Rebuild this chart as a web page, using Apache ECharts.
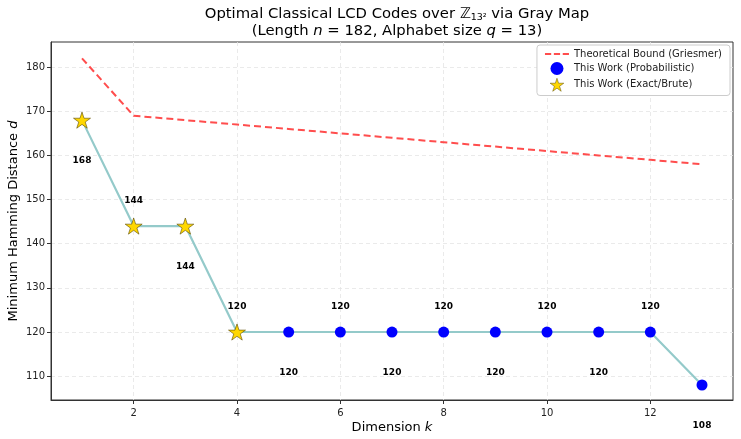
<!DOCTYPE html>
<html>
<head>
<meta charset="utf-8">
<script src="https://cdn.jsdelivr.net/npm/echarts@6/dist/echarts.min.js"></script>
<style>
  html, body { margin: 0; padding: 0; background: #fff; }
  #chart { width: 741px; height: 439px; }
</style>
</head>
<body>
<div id="chart"></div>
<script>
// data
const dims = [1, 2, 3, 4, 5, 6, 7, 8, 9, 10, 11, 12, 13];
const griesmerBound = [182, 169, 168, 167, 166, 165, 164, 163, 162, 161, 160, 159, 158];
const distances = [168, 144, 144, 120, 120, 120, 120, 120, 120, 120, 120, 120, 108];
const exactDims = [1, 2, 3, 4];
const probDims = [5, 6, 7, 8, 9, 10, 11, 12, 13];
const xTicks = [2, 4, 6, 8, 10, 12];
const yTicks = [110, 120, 130, 140, 150, 160, 170, 180];

const FONT = 'DejaVu Sans';
const STAR = 'path://M100 0 L122.45 69.1 L195.1 69.1 L136.3 111.8 L158.8 180.9 L100 138.2 L41.2 180.9 L63.7 111.8 L4.9 69.1 L77.55 69.1 Z';
const DASH = 'path://M0 0H7V2H0Z M10 0H17V2H10Z M20 0H27V2H20Z';

const pick = (ks) => ks.map(k => [k, distances[dims.indexOf(k)]]);

// value labels, alternate below (odd k) / above (even k)
const labelledLine = dims.map((k, i) => ({
  value: [k, distances[i]],
  label: {
    show: true,
    position: 'inside',
    offset: k % 2 === 1 ? [0, 41] : [0, -25],
  },
}));

const chart = echarts.init(document.getElementById('chart'));

chart.setOption({
  animation: false,
  textStyle: { fontFamily: FONT },
  title: {
    left: 392,
    top: 1,
    textAlign: 'center',
    text: '{r|Optimal Classical LCD Codes over }{z|ℤ}{s|13²}{r| via Gray Map}\n{r|(Length }{i|n}{r| = 182, Alphabet size }{i|q}{r| = 13)}',
    textStyle: {
      fontFamily: FONT,
      fontWeight: 'normal',
      rich: {
        r: { fontSize: 14.8, color: '#000', fontFamily: FONT, fontWeight: 'normal', lineHeight: 17 },
        z: { fontSize: 14.8, color: '#000', fontFamily: FONT, fontWeight: 'normal', lineHeight: 17 },
        s: { fontSize: 9.5, color: '#000', fontFamily: FONT, fontWeight: 'normal', verticalAlign: 'bottom', lineHeight: 17, padding: [6, 0, 0, 0] },
        i: { fontSize: 14.8, color: '#000', fontFamily: FONT, fontWeight: 'normal', fontStyle: 'italic', lineHeight: 17 },
      },
    },
  },
  legend: {
    orient: 'vertical',
    right: 11,
    top: 45,
    padding: [4, 8, 4, 8],
    itemGap: 3,
    itemWidth: 24,
    itemHeight: 13,
    borderColor: '#ccc',
    borderWidth: 1,
    borderRadius: 3,
    backgroundColor: '#fff',
    textStyle: { fontSize: 10, color: '#222', fontFamily: FONT },
    data: [
      { name: 'Theoretical Bound (Griesmer)', icon: DASH },
      { name: 'This Work (Probabilistic)', icon: 'circle' },
      { name: 'This Work (Exact/Brute)', icon: STAR, itemStyle: { borderWidth: 0.5, borderColor: '#5a4a00' } },
    ],
  },
  grid: {
    left: 51,
    right: 8,
    top: 42,
    bottom: 39,
    outerBoundsMode: 'none',
    show: true,
    borderColor: '#333',
    borderWidth: 1,
  },
  xAxis: {
    type: 'value',
    min: 0.4,
    max: 13.6,
    name: '{a|Dimension }{b|k}',
    nameLocation: 'middle',
    nameGap: 21,
    nameMoveOverlap: false,
    nameTextStyle: {
      rich: {
        a: { fontSize: 13, color: '#000', fontFamily: FONT },
        b: { fontSize: 13, color: '#000', fontFamily: FONT, fontStyle: 'italic' },
      },
    },
    axisLine: { show: true, lineStyle: { color: '#333' } },
    axisTick: { show: true, customValues: xTicks, length: 4, lineStyle: { color: '#333' } },
    axisLabel: { customValues: xTicks, fontSize: 10, color: '#222', margin: 8, fontFamily: FONT },
    splitLine: { show: true, lineStyle: { color: '#e4e4e4', type: [4, 3], width: 0.8 } },
  },
  yAxis: {
    type: 'value',
    min: 104.6,
    max: 185.7,
    name: '{a|Minimum Hamming Distance }{b|d}',
    nameLocation: 'middle',
    nameGap: 31,
    nameMoveOverlap: false,
    nameTextStyle: {
      rich: {
        a: { fontSize: 13, color: '#000', fontFamily: FONT },
        b: { fontSize: 13, color: '#000', fontFamily: FONT, fontStyle: 'italic' },
      },
    },
    axisLine: { show: true, lineStyle: { color: '#333' } },
    axisTick: { show: true, customValues: yTicks, length: 4, lineStyle: { color: '#333' } },
    axisLabel: { customValues: yTicks, fontSize: 10, color: '#222', margin: 6, fontFamily: FONT },
    splitLine: { show: true, lineStyle: { color: '#e4e4e4', type: [4, 3], width: 0.8 } },
  },
  series: [
    {
      name: 'Theoretical Bound (Griesmer)',
      type: 'line',
      data: dims.map((k, i) => [k, griesmerBound[i]]),
      showSymbol: false,
      symbol: 'none',
      itemStyle: { color: '#ff4d4d' },
      lineStyle: { color: '#ff4d4d', width: 2, type: [7, 4] },
      z: 2,
    },
    {
      name: 'path',
      type: 'line',
      data: labelledLine,
      symbol: 'circle',
      symbolSize: 0,
      showSymbol: true,
      lineStyle: { color: '#94caca', width: 2.2 },
      itemStyle: { color: '#94caca' },
      label: { fontSize: 9, fontWeight: 'bold', color: '#000', fontFamily: FONT },
      z: 3,
    },
    {
      name: 'This Work (Probabilistic)',
      type: 'scatter',
      data: pick(probDims),
      symbol: 'circle',
      symbolSize: 11,
      itemStyle: { color: '#0000ff', opacity: 1 },
      z: 4,
    },
    {
      name: 'This Work (Exact/Brute)',
      type: 'scatter',
      data: pick(exactDims),
      symbol: STAR,
      symbolKeepAspect: true,
      symbolSize: 17,
      itemStyle: { color: '#ffd700', borderColor: '#5a4a00', borderWidth: 0.6, opacity: 1 },
      z: 5,
    },
  ],
});
</script>
</body>
</html>
